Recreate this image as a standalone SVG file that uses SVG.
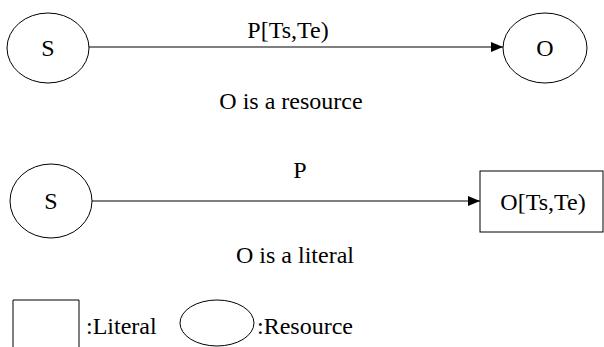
<svg xmlns="http://www.w3.org/2000/svg" width="604" height="347" viewBox="0 0 604 347">
  <style>
    .shape { fill: #ffffff; stroke: #000000; stroke-width: 1; }
    .edge { fill: none; stroke: #000000; stroke-width: 1.2; }
    .mid { text-anchor: middle; }
  </style>
  <defs>
    <marker id="arrow" viewBox="0 0 12 10" refX="12" refY="5" markerWidth="12" markerHeight="10" markerUnits="userSpaceOnUse" orient="auto">
      <path d="M0,0 L12,5 L0,10 Z" fill="#000000"/>
    </marker>
  </defs>

  <g font-family="'Liberation Serif', 'DejaVu Serif', 'Noto Serif', serif" font-size="24" fill="#000000">
    <!-- Row 1: subject and object resources -->
    <g id="s1">
      <ellipse class="shape" cx="48" cy="48" rx="41" ry="35"/>
      <text class="mid" x="48" y="56">S</text>
    </g>
    <g id="o1">
      <ellipse class="shape" cx="545" cy="48" rx="42" ry="35"/>
      <text class="mid" x="545" y="56">O</text>
    </g>

    <!-- Row 2: subject resource and literal object -->
    <g id="s2">
      <ellipse class="shape" cx="51" cy="201" rx="41" ry="37"/>
      <text class="mid" x="51" y="209">S</text>
    </g>
    <g id="o2">
      <rect class="shape" x="480" y="171" width="123" height="61"/>
      <text class="mid" x="543" y="210">O[Ts,Te)</text>
    </g>

    <!-- Connectors -->
    <g id="edges">
      <line class="edge" x1="89" y1="47" x2="503" y2="47" marker-end="url(#arrow)"/>
      <line class="edge" x1="92" y1="201" x2="480" y2="201" marker-end="url(#arrow)"/>
    </g>

    <!-- Edge labels and captions -->
    <g id="labels">
      <text class="mid" x="288" y="38">P[Ts,Te)</text>
      <text class="mid" x="291" y="109">O is a resource</text>
      <text class="mid" x="300" y="178">P</text>
      <text class="mid" x="295" y="263">O is a literal</text>
    </g>

    <!-- Legend -->
    <g id="legend">
      <path class="shape" d="M13,347 V300 H79 V347"/>
      <text x="86" y="334">:Literal</text>
      <ellipse class="shape" cx="217" cy="323" rx="37" ry="23"/>
      <text x="257" y="334">:Resource</text>
    </g>
  </g>
</svg>
